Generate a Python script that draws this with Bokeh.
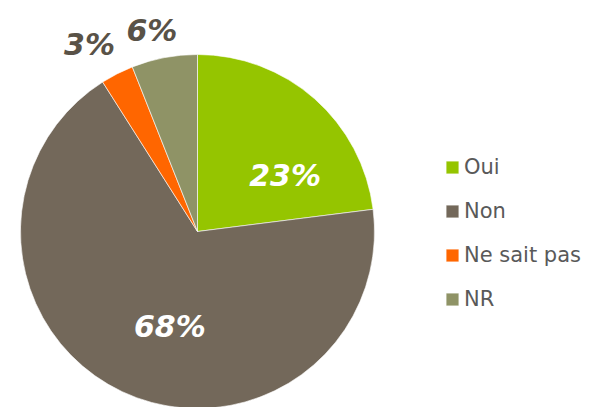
import math
from bokeh.plotting import figure
from bokeh.models import ColumnDataSource, Legend, LegendItem
from bokeh.core.properties import value
from bokeh.embed import file_html
from bokeh.resources import INLINE

# data
categories = ["Oui", "Non", "Ne sait pas", "NR"]
percents = [23, 68, 3, 6]
colors = ["#95C500", "#73685A", "#FF6600", "#8F9366"]

# layout
W, H = 597, 407
cx, cy = 197, H - 231
R = 177
label_r = [104, 99, 216, 206]
label_da = [-16, 9, 3, 2]
label_colors = ["#FFFFFF", "#FFFFFF", "#595247", "#595247"]

total = float(sum(percents))
starts, ends, lx, ly, texts = [], [], [], [], []
a = math.pi / 2
for i, v in enumerate(percents):
    span = 2 * math.pi * v / total
    s, e = a, a - span
    starts.append(s)
    ends.append(e)
    mid = (s + e) / 2 + math.radians(label_da[i])
    lx.append(cx + label_r[i] * math.cos(mid))
    ly.append(cy + label_r[i] * math.sin(mid))
    texts.append(f"{v}%")
    a = e

src = ColumnDataSource(dict(cat=categories, start=starts, end=ends, color=colors,
                            x=[cx] * 4, y=[cy] * 4))
lsrc = ColumnDataSource(dict(x=lx, y=ly, text=texts, color=label_colors))

p = figure(width=W, height=H, x_range=(0, W), y_range=(0, H),
           output_backend="svg", toolbar_location=None, min_border=0)
p.axis.visible = False
p.grid.visible = False
p.outline_line_color = None

r = p.wedge(x="x", y="y", radius=R, start_angle="end", end_angle="start",
            fill_color="color", line_color="white", line_width=0.6, source=src)

p.text(x="x", y="y", text="text", text_color="color", source=lsrc,
       text_font=value("DejaVu Sans"), text_font_size="30px", text_font_style="bold italic",
       text_align="center", text_baseline="middle")

items = [LegendItem(label=c, renderers=[r], index=i) for i, c in enumerate(categories)]
legend = Legend(items=items, location=(444, 96), label_text_font="DejaVu Sans",
                label_text_font_size="21px", label_text_color="#595959",
                glyph_width=16, glyph_height=16, label_height=21, spacing=20,
                padding=0, margin=0, label_standoff=4,
                border_line_color=None, background_fill_alpha=0)
p.add_layout(legend)

open("out.html", "w").write(file_html(p, INLINE))
